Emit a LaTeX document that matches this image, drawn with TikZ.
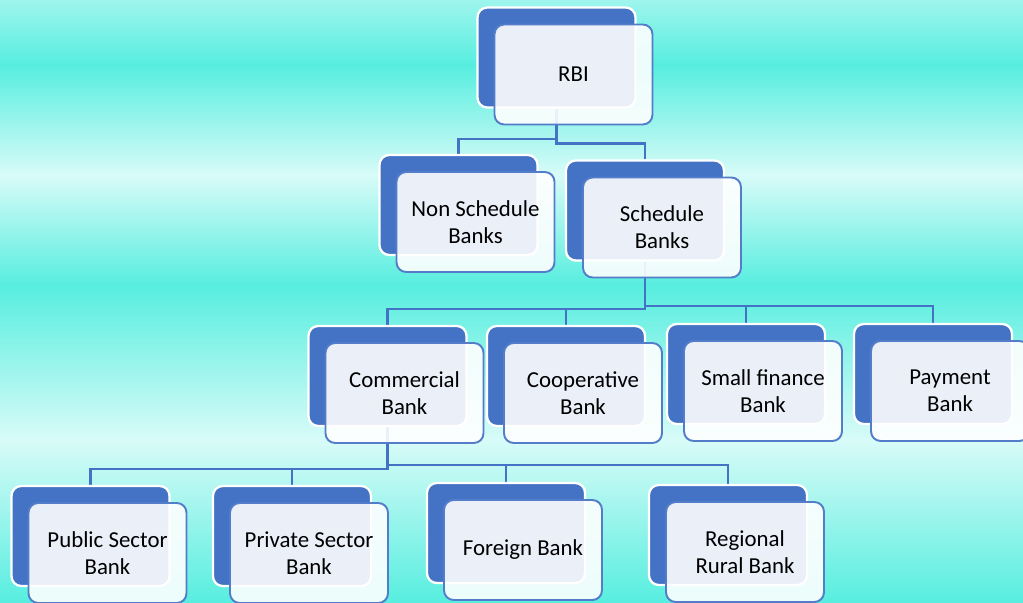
\documentclass[tikz,border=0pt]{standalone}
\usepackage{fontspec}
\setmainfont{Carlito}
\usetikzlibrary{calc,positioning}
\definecolor{aqua}{HTML}{57EEDF}
\definecolor{foam}{HTML}{D8FBF8}
\definecolor{bankblue}{HTML}{4472C4}
\pgfdeclarelayer{bg}
\pgfdeclarelayer{links}
\pgfsetlayers{bg,links,main}
\tikzset{
  backbox/.style={draw=white,line width=1.3pt,fill=bankblue,rounded corners=5.5pt,minimum width=3.16cm,minimum height=2cm,inner sep=0pt},
  frontbox/.style={draw=bankblue!92!white,line width=1.1pt,fill=white,fill opacity=0.89,text opacity=1,rounded corners=5.5pt,minimum width=3.16cm,minimum height=2cm,inner sep=0pt,align=center,font=\fontsize{13}{15.5}\selectfont},
  link/.style={draw=bankblue,line width=1.3pt},
}
% two stacked boxes: blue one behind, pale one in front with the label
\newcommand{\bank}[4]{%
  \node[backbox] (b#1) at (#2,#3) {};
  \node[frontbox] (#1) at ($(b#1)+(17,17)$) {#4};
}

\begin{document}
\begin{tikzpicture}[x=0.02cm,y=-0.02cm]
\useasboundingbox (0,0) rectangle (1023,602);
\clip (0,0) rectangle (1023,602);

% banded background
\begin{pgfonlayer}{bg}
\shade[top color=aqua!45!foam,bottom color=aqua] (0,0) rectangle (1023,65);
\shade[top color=aqua,bottom color=foam] (0,65) rectangle (1023,175);
\shade[top color=foam,bottom color=aqua] (0,175) rectangle (1023,285);
\shade[top color=aqua,bottom color=foam] (0,285) rectangle (1023,440);
\shade[top color=foam,bottom color=aqua] (0,440) rectangle (1023,602);
\end{pgfonlayer}

\bank{rbi}{556.5}{57.5}{RBI}
\bank{nons}{458.5}{205}{Non Schedule\\Banks}
\bank{sched}{645}{210.5}{Schedule\\Banks}
\bank{com}{387.5}{376}{Commercial\\Bank}
\bank{coop}{566}{376}{Cooperative\\Bank}
\bank{small}{746}{374}{Small finance\\Bank}
\bank{pay}{933}{374}{Payment\\Bank}
\bank{pub}{90.5}{536}{Public Sector\\Bank}
\bank{pri}{292}{536}{Private Sector\\Bank}
\bank{for}{506}{533}{Foreign Bank}
\bank{reg}{728}{535}{Regional\\Rural Bank}

% elbow connectors
\begin{pgfonlayer}{links}
\foreach \k/\d in {nons/15,sched/16}
  \draw[link] (brbi.south) |- ($(b\k.north)+(0,-\d)$) -- (b\k.north);
\foreach \k/\d in {com/16,coop/16,small/17,pay/17}
  \draw[link] (bsched.south) |- ($(b\k.north)+(0,-\d)$) -- (b\k.north);
\foreach \k/\d in {pub/16,pri/16,for/17,reg/19}
  \draw[link] (bcom.south) |- ($(b\k.north)+(0,-\d)$) -- (b\k.north);
\end{pgfonlayer}
\end{tikzpicture}
\end{document}
